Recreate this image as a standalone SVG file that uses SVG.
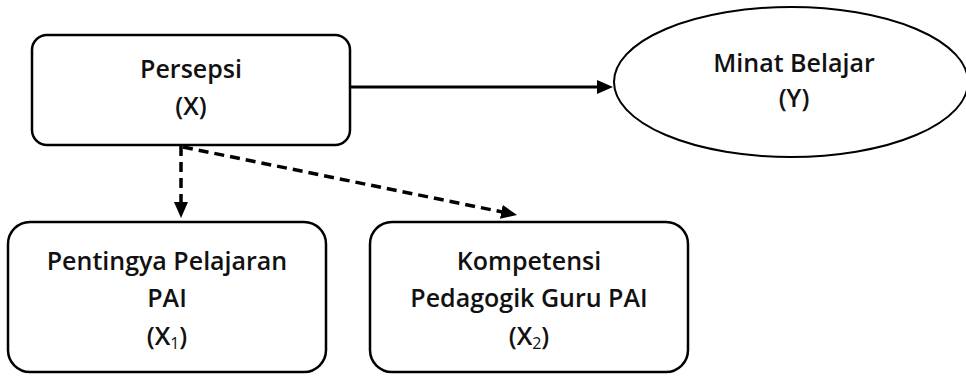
<svg xmlns="http://www.w3.org/2000/svg" width="966" height="376" viewBox="0 0 966 376">
<style>
.box{fill:#fff;stroke:#000;stroke-width:2.5}
.lbl{font-family:"Open Sans","Noto Sans",sans-serif;font-size:25px;font-weight:600;fill:#111;text-anchor:middle}
.sub{font-size:16px;font-weight:400}
.solid{stroke:#000;stroke-width:3;fill:none}
.dash{stroke:#000;stroke-width:3.5;fill:none;stroke-dasharray:10 6}
</style>
<defs>
<marker id="ah" viewBox="0 0 16 14" refX="3" refY="7" markerWidth="16" markerHeight="14" markerUnits="userSpaceOnUse" orient="auto">
<path d="M0,0 L16,7 L0,14 z" fill="#000"/>
</marker>
</defs>
<rect width="966" height="376" fill="#fff"/>
<g id="connectors">
<line class="solid" x1="350" y1="87" x2="600" y2="87" marker-end="url(#ah)"/>
<line class="dash" x1="181" y1="146" x2="181" y2="205" marker-end="url(#ah)"/>
<line class="dash" x1="183" y1="147" x2="504.3" y2="212.4" marker-end="url(#ah)"/>
</g>
<g id="node-persepsi">
<rect class="box" x="32" y="35" width="318" height="110" rx="15"/>
<text class="lbl" x="191" y="78">Persepsi</text>
<text class="lbl" x="191" y="115">(X)</text>
</g>
<g id="node-minat">
<ellipse class="box" cx="791" cy="82" rx="177" ry="75" style="stroke-width:2"/>
<text class="lbl" x="794" y="72">Minat Belajar</text>
<text class="lbl" x="794" y="107">(Y)</text>
</g>
<g id="node-x1">
<rect class="box" x="8" y="222" width="318" height="150" rx="22"/>
<text class="lbl" x="167" y="270">Pentingya Pelajaran</text>
<text class="lbl" x="167" y="307">PAI</text>
<text class="lbl" x="167" y="345">(X<tspan class="sub" dy="4">1</tspan><tspan dy="-4">)</tspan></text>
</g>
<g id="node-x2">
<rect class="box" x="370" y="222" width="318" height="150" rx="22"/>
<text class="lbl" x="529" y="270">Kompetensi</text>
<text class="lbl" x="529" y="307">Pedagogik Guru PAI</text>
<text class="lbl" x="529" y="345">(X<tspan class="sub" dy="4">2</tspan><tspan dy="-4">)</tspan></text>
</g>
</svg>
